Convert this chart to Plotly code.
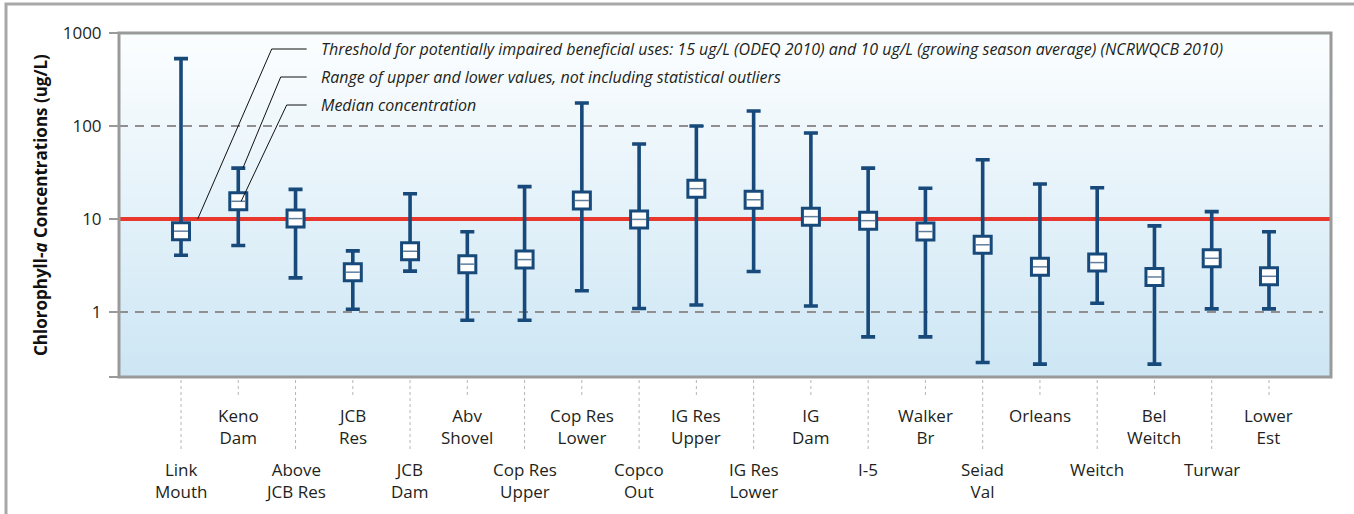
import numpy as np
import plotly.graph_objects as go

# Monitoring sites, upstream to downstream
sites = ["Link<br>Mouth", "Keno<br>Dam", "Above<br>JCB Res", "JCB<br>Res", "JCB<br>Dam",
         "Abv<br>Shovel", "Cop Res<br>Upper", "Cop Res<br>Lower", "Copco<br>Out", "IG Res<br>Upper",
         "IG Res<br>Lower", "IG<br>Dam", "I-5", "Walker<br>Br", "Seiad<br>Val",
         "Orleans", "Weitch", "Bel<br>Weitch", "Turwar", "Lower<br>Est"]

# Chlorophyll-a (ug/L): upper whisker, median, lower whisker
upper = [530, 35.2, 20.8, 4.54, 18.7, 7.3, 22.3, 177, 64, 100,
         145, 84, 35.2, 21.4, 43.4, 23.8, 21.7, 8.43, 12, 7.28]
median = [7.4, 15.5, 10.1, 2.68, 4.5, 3.27, 3.66, 15.8, 9.9, 21.2,
          16.1, 10.6, 9.6, 7.33, 5.28, 3.06, 3.4, 2.38, 3.78, 2.42]
lower = [4.08, 5.18, 2.33, 1.07, 2.75, 0.815, 0.815, 1.69, 1.09, 1.19,
         2.73, 1.16, 0.54, 0.54, 0.286, 0.275, 1.24, 0.275, 1.08, 1.08]

threshold = 10
ref_lines = [1, 100]
tick_vals = [0.2, 1, 10, 100, 1000]
tick_text = ["", "1", "10", "100", "1000"]

notes = [
    "Threshold for potentially impaired beneficial uses: 15 ug/L (ODEQ 2010) and 10 ug/L (growing season average) (NCRWQCB 2010)",
    "Range of upper and lower values, not including statistical outliers",
    "Median concentration",
]

NAVY = "#17497a"
FONT = "Open Sans"
W, H = 1354, 514
ML, MR, MT, MB = 119, 23, 33, 137
PW, PH = W - ML - MR, H - MT - MB

x = np.arange(len(sites))
XR = [-1.083, len(sites) - 1 + 1.083]
YR = [np.log10(0.2), 3]


def px_to_x(px):
    return XR[0] + (px - ML) / PW * (XR[1] - XR[0])


def px_to_paper_y(py):
    return (H - MB - py) / PH


def paper_to_val(p):
    return 10 ** (YR[0] + p * (YR[1] - YR[0]))


fig = go.Figure()

# whiskers
fig.add_trace(go.Scatter(
    x=x, y=median, mode="markers",
    marker=dict(size=1, color="rgba(0,0,0,0)"),
    error_y=dict(type="data", symmetric=False,
                 array=[u - m for u, m in zip(upper, median)],
                 arrayminus=[m - l for m, l in zip(median, lower)],
                 color=NAVY, thickness=3.6, width=7),
    hoverinfo="skip", showlegend=False))

# median boxes
fig.add_trace(go.Scatter(
    x=x, y=median, mode="markers",
    marker=dict(symbol="square", size=17, color="white", line=dict(color=NAVY, width=3)),
    hoverinfo="skip", showlegend=False))
fig.add_trace(go.Scatter(
    x=x, y=median, mode="markers",
    marker=dict(symbol="line-ew", size=10, line=dict(color="#5f7e9c", width=1.5)),
    hoverinfo="skip", showlegend=False))

# leader lines from the notes to the features they describe
note_py = [49, 77, 105]
elbow_px = [271.7, 280.7, 286.7]
targets = [(px_to_x(197.7), threshold), (1 + 0.08, upper[1]), (1 + 0.05, median[1])]
line_end = px_to_x(306.7)
for py, ex, (tx, ty) in zip(note_py, elbow_px, targets):
    yv = paper_to_val(px_to_paper_y(py))
    fig.add_trace(go.Scatter(
        x=[line_end, px_to_x(ex), tx], y=[yv, yv, ty], mode="lines",
        line=dict(color="#111111", width=1), hoverinfo="skip", showlegend=False))

shapes = []
# soft vertical gradient behind the plot
n_bands = 90
top_c = np.array([252, 254, 255])
bot_c = np.array([205, 230, 244])
for i in range(n_bands):
    t = i / n_bands
    c = bot_c + (top_c - bot_c) * t
    shapes.append(dict(type="rect", xref="paper", yref="paper", x0=0, x1=1,
                       y0=t, y1=(i + 1) / n_bands + 0.002, line=dict(width=0),
                       fillcolor="rgb(%d,%d,%d)" % tuple(c.round()), layer="below"))
# dashed reference lines
for v in ref_lines:
    shapes.append(dict(type="line", xref="paper", yref="y", x0=0, x1=0.9934, y0=v, y1=v,
                       line=dict(color="#8f8f8f", width=2, dash="9px,7px"), layer="between"))
# threshold
shapes.append(dict(type="line", xref="paper", yref="y", x0=0, x1=1, y0=threshold, y1=threshold,
                   line=dict(color="#e8382d", width=4), layer="between"))
# plot frame
shapes.append(dict(type="rect", xref="paper", yref="paper", x0=0, x1=1, y0=0, y1=1,
                   line=dict(color="#9a9a9a", width=3), layer="above"))
# outer frame
shapes.append(dict(type="rect", xref="paper", yref="paper",
                   x0=(6 - ML) / PW, x1=1.2, y0=-1.0, y1=px_to_paper_y(4),
                   line=dict(color="#a8a8a8", width=3), layer="above"))

annotations = []
# site labels on two staggered rows with dotted guides
for i, name in enumerate(sites):
    upper_row = i % 2 == 1
    guide_end = 397 if upper_row else 452
    shapes.append(dict(type="line", xref="x", yref="paper", x0=i, x1=i,
                       y0=px_to_paper_y(380), y1=px_to_paper_y(guide_end),
                       line=dict(color="#b5b5b5", width=1, dash="dot")))
    annotations.append(dict(x=i, xref="x", y=px_to_paper_y(402 if upper_row else 456), yref="paper",
                            text=name, showarrow=False, xanchor="center", yanchor="top",
                            font=dict(family=FONT, size=17, color="#231f20")))

for py, txt in zip(note_py, notes):
    annotations.append(dict(x=(319 - ML) / PW, xref="paper", y=px_to_paper_y(py), yref="paper",
                            text="<i>" + txt + "</i>", showarrow=False, xanchor="left", yanchor="middle",
                            font=dict(family=FONT, size=16, color="#231f20")))

annotations.append(dict(x=(40 - ML) / PW, xref="paper", y=0.5, yref="paper", textangle=-90,
                        text="<b>Chlorophyll-<i>a</i> Concentrations (ug/L)</b>", showarrow=False,
                        xanchor="center", yanchor="middle",
                        font=dict(family=FONT, size=17, color="#111111")))

fig.update_layout(
    width=W, height=H, margin=dict(l=ML, r=MR, t=MT, b=MB),
    paper_bgcolor="white", plot_bgcolor="white",
    shapes=shapes, annotations=annotations, showlegend=False,
    xaxis=dict(range=XR, showgrid=False, zeroline=False, showticklabels=False, showline=False, ticks=""),
    yaxis=dict(type="log", range=YR, tickvals=tick_vals, ticktext=tick_text,
               showgrid=False, zeroline=False, showline=False,
               ticks="outside", ticklen=9, tickwidth=2, tickcolor="#9a9a9a",
               ticklabelstandoff=4,
               tickfont=dict(family=FONT, size=17, color="#231f20")),
)

fig.write_html("out.html")
